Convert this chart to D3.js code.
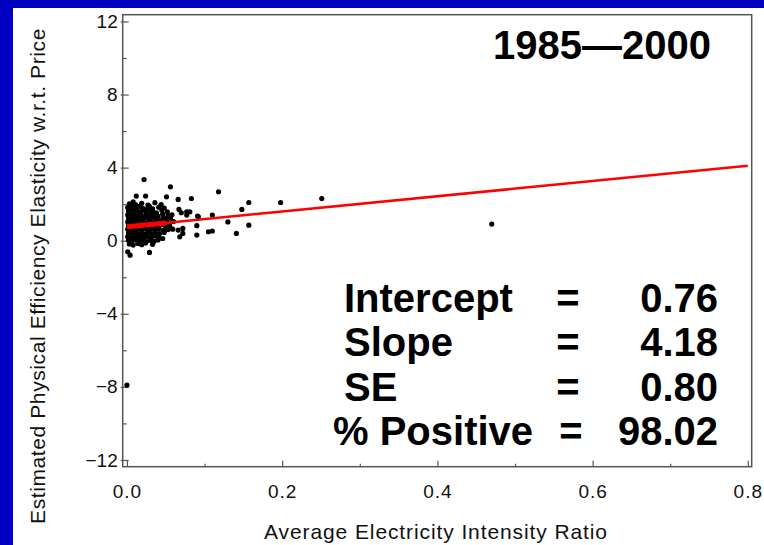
<!DOCTYPE html>
<html>
<head>
<meta charset="utf-8">
<script src="https://cdn.jsdelivr.net/npm/d3@7"></script>
<style>
	body { margin: 0; background: #0000c0; }
	svg { display: block; font-family: "Liberation Sans", Arial, sans-serif; }
</style>
</head>
<body>
<svg id="chart"></svg>
<script>
// data
const xTicks = [0, 0.2, 0.4, 0.6, 0.8];
const xMinor = [0.1, 0.3, 0.5, 0.7];
const yTicks = [-12, -8, -4, 0, 4, 8, 12];
const yMinor = [-10, -6, -2, 2, 6, 10];

const title = "1985\u20142000";
const xLabel = "Average Electricity Intensity Ratio";
const yLabel = "Estimated Physical Efficiency Elasticity w.r.t. Price";

const statNames = ["Intercept", "Slope", "SE", "% Positive"];
const statValues = ["0.76", "4.18", "0.80", "98.02"];

const intercept = 0.76;
const slope = 4.18;
const fitRange = [0, 0.8];
const denseRange = [0, 0.05];

// dense cluster near zero
const clusterPoints = [
	[0.003, 2.02], [0.011, 1.98], [0.019, 2.05], [0.027, 1.95], [0.036, 2.08], [0.044, 1.97], [0.008, 2.12],
	[0.001, 1.82], [0.006, 1.78], [0.014, 1.85], [0.021, 1.76], [0.029, 1.88], [0.033, 1.74], [0.041, 1.83], [0.048, 1.79], [0.017, 1.9],
	[0.002, 1.62], [0.009, 1.58], [0.013, 1.66], [0.018, 1.55], [0.024, 1.64], [0.031, 1.6], [0.038, 1.52], [0.045, 1.67], [0.052, 1.58], [0.005, 1.7], [0.026, 1.71],
	[0.001, 1.41], [0.004, 1.36], [0.007, 1.46], [0.012, 1.38], [0.016, 1.44], [0.02, 1.35], [0.025, 1.47], [0.03, 1.39], [0.035, 1.43], [0.04, 1.34], [0.046, 1.45], [0.053, 1.37], [0.058, 1.42],
	[0.002, 1.22], [0.005, 1.17], [0.008, 1.27], [0.011, 1.15], [0.015, 1.24], [0.019, 1.19], [0.023, 1.28], [0.028, 1.16], [0.032, 1.25], [0.037, 1.2], [0.042, 1.13], [0.047, 1.26], [0.051, 1.18], [0.056, 1.23],
	[0.001, 1.03], [0.004, 0.97], [0.007, 1.06], [0.01, 0.95], [0.013, 1.04], [0.017, 0.99], [0.021, 1.08], [0.026, 0.96], [0.03, 1.05], [0.034, 0.98], [0.039, 1.07], [0.043, 0.94], [0.049, 1.02], [0.054, 0.97], [0.06, 1.05],
	[0.002, 0.83], [0.005, 0.77], [0.009, 0.86], [0.012, 0.75], [0.016, 0.84], [0.02, 0.79], [0.024, 0.88], [0.029, 0.76], [0.033, 0.85], [0.038, 0.78], [0.044, 0.87], [0.05, 0.74], [0.055, 0.82],
	[0.001, 0.62], [0.004, 0.57], [0.008, 0.66], [0.011, 0.55], [0.015, 0.64], [0.019, 0.58], [0.023, 0.67], [0.027, 0.54], [0.031, 0.63], [0.036, 0.59], [0.041, 0.66], [0.047, 0.56], [0.053, 0.61],
	[0.002, 0.42], [0.006, 0.37], [0.01, 0.45], [0.014, 0.35], [0.018, 0.44], [0.022, 0.38], [0.027, 0.46], [0.032, 0.36], [0.037, 0.43], [0.042, 0.39], [0.048, 0.45],
	[0.001, 0.22], [0.005, 0.16], [0.009, 0.25], [0.013, 0.18], [0.017, 0.24], [0.021, 0.14], [0.026, 0.23], [0.031, 0.17], [0.036, 0.26], [0.041, 0.19], [0.046, 0.12],
	[0.002, 0.03], [0.006, -0.04], [0.011, 0.05], [0.016, -0.02], [0.02, 0.06], [0.025, -0.05], [0.03, 0.02], [0.035, -0.03], [0.04, 0.04],
	[0.003, -0.18], [0.008, -0.24], [0.014, -0.15], [0.019, -0.22], [0.024, -0.12], [0.033, -0.2],
	[0.003, 1.5], [0.007, 1.9], [0.012, 1.72], [0.016, 1.12], [0.022, 0.9], [0.028, 1.32], [0.006, 0.5], [0.014, 0.92], [0.018, 0.7], [0.025, 0.3],
	[0.009, 1.1], [0.003, 0.72], [0.034, 1.55], [0.039, 0.9], [0.045, 1.1], [0.013, 0.1], [0.028, 0.5], [0.037, 0.7], [0.006, 1.3], [0.02, 1.7]
];

// scattered points further out
const outerPoints = [
	[0.001, -0.61], [0.004, -0.79], [0.029, -0.64], [0.0, -7.9],
	[0.022, 3.35], [0.056, 2.95], [0.012, 2.44], [0.024, 2.44], [0.051, 2.4], [0.066, 2.26],
	[0.067, 1.71], [0.07, 1.53], [0.077, 1.4], [0.091, 1.35], [0.059, 0.63], [0.066, 0.58],
	[0.072, 0.4], [0.068, 0.21], [0.09, 0.31], [0.083, 2.31], [0.118, 2.68], [0.081, 1.58],
	[0.092, 1.31], [0.09, 0.82], [0.11, 1.4], [0.105, 0.49], [0.11, 0.53], [0.13, 1.03],
	[0.141, 0.4], [0.148, 1.71], [0.157, 2.09], [0.157, 0.85], [0.198, 2.09], [0.251, 2.31],
	[0.47, 0.91], [0.077, 1.58], [0.072, 0.67], [0.053, 0.69]
];

const W = 764, H = 545;
const plot = { left: 122.7, right: 751.7, top: 14.7, bottom: 466.7 };

const svg = d3.select("#chart").attr("width", W).attr("height", H);

svg.append("rect")
	.attr("x", 0).attr("y", 0).attr("width", W).attr("height", H)
	.attr("fill", "#0000c0");
svg.append("rect")
	.attr("x", 13).attr("y", 8).attr("width", W - 13).attr("height", H - 8)
	.attr("fill", "white");

const x = d3.scaleLinear().domain([-0.0055, 0.805]).range([plot.left, plot.right]);
const y = d3.scaleLinear().domain([-12.37, 12.37]).range([plot.bottom, plot.top]);

const fmtY = d => d3.format("d")(d).replace("-", "\u2212");

// axes, ticks pointing inward
svg.append("g")
	.attr("class", "xmajor")
	.attr("transform", `translate(0, ${plot.bottom})`)
	.call(d3.axisBottom(x).tickValues(xTicks).tickFormat(d3.format(".1f"))
		.tickSizeInner(-6).tickSizeOuter(0).tickPadding(18));
svg.append("g")
	.attr("transform", `translate(0, ${plot.bottom})`)
	.call(d3.axisBottom(x).tickValues(xMinor).tickFormat("")
		.tickSizeInner(-3).tickSizeOuter(0));

const gy = svg.append("g")
	.attr("transform", `translate(${plot.left}, 0)`)
	.call(d3.axisLeft(y).tickValues(yTicks).tickFormat(fmtY)
		.tickSizeInner(-6).tickSizeOuter(0).tickPadding(5));
svg.append("g")
	.attr("transform", `translate(${plot.left}, 0)`)
	.call(d3.axisLeft(y).tickValues(yMinor).tickFormat("")
		.tickSizeInner(-4).tickSizeOuter(0));

svg.selectAll(".domain").remove();
svg.selectAll(".tick line").attr("stroke", "#555").attr("stroke-width", 1.2);
svg.selectAll(".tick text")
	.attr("font-size", 19)
	.attr("fill", "#111")
	.attr("font-family", "Liberation Sans, Arial, sans-serif");
svg.selectAll(".xmajor .tick text").attr("letter-spacing", 1);

// short outward stub on major y ticks
gy.selectAll(".tick").append("line")
	.attr("x1", -2).attr("x2", 0)
	.attr("stroke", "#555").attr("stroke-width", 1.2);

// frame
svg.append("rect")
	.attr("x", plot.left).attr("y", plot.top)
	.attr("width", plot.right - plot.left).attr("height", plot.bottom - plot.top)
	.attr("fill", "none").attr("stroke", "#555").attr("stroke-width", 1.5);

// points
svg.append("g")
	.selectAll("circle")
	.data(clusterPoints.concat(outerPoints))
	.join("circle")
	.attr("cx", d => x(d[0]))
	.attr("cy", d => y(d[1]))
	.attr("r", 2.6)
	.attr("fill", "black");

// fitted line
const fit = v => intercept + slope * v;
svg.append("line")
	.attr("x1", x(fitRange[0])).attr("y1", y(fit(fitRange[0])))
	.attr("x2", x(fitRange[1])).attr("y2", y(fit(fitRange[1])))
	.attr("stroke", "#ff0000").attr("stroke-width", 2.5);
svg.append("line")
	.attr("x1", x(denseRange[0])).attr("y1", y(fit(denseRange[0])))
	.attr("x2", x(denseRange[1])).attr("y2", y(fit(denseRange[1])))
	.attr("stroke", "#ff0000").attr("stroke-width", 5);

// title
svg.append("text")
	.attr("x", 602).attr("y", 59)
	.attr("text-anchor", "middle")
	.attr("font-size", 40).attr("font-weight", "bold")
	.text(title);

// stats block
const rowY = [312, 356, 401, 445];
const nameX = [344, 344, 344, 333];
const stats = svg.append("g").attr("font-size", 40).attr("font-weight", "bold");
statNames.forEach((s, i) => {
	stats.append("text").attr("x", nameX[i]).attr("y", rowY[i]).text(s);
	stats.append("text").attr("x", i === 3 ? 571 : 568).attr("y", rowY[i])
		.attr("text-anchor", "middle").text("=");
	stats.append("text").attr("x", 718).attr("y", rowY[i])
		.attr("text-anchor", "end").text(statValues[i]);
});

// axis titles
svg.append("text")
	.attr("x", 436).attr("y", 539)
	.attr("text-anchor", "middle")
	.attr("font-size", 21).attr("fill", "#111")
	.attr("letter-spacing", 0.9)
	.text(xLabel);

svg.append("text")
	.attr("transform", `translate(45, 276) rotate(-90)`)
	.attr("text-anchor", "middle")
	.attr("font-size", 21).attr("fill", "#111")
	.attr("letter-spacing", 0.6)
	.text(yLabel);
</script>
</body>
</html>
